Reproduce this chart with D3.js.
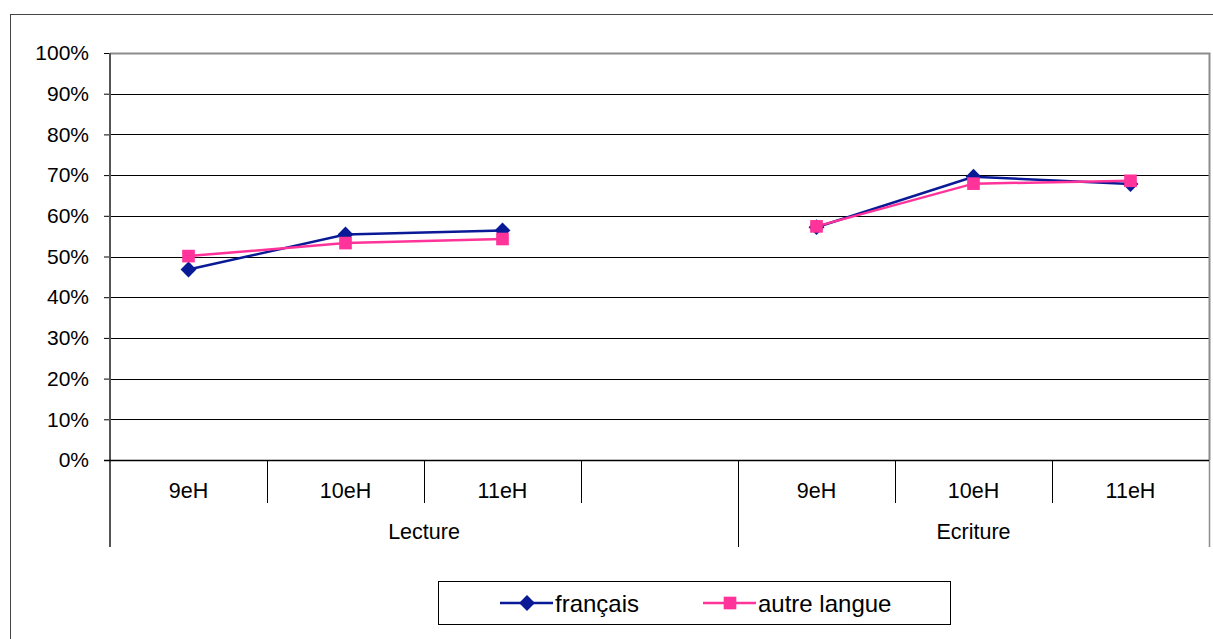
<!DOCTYPE html>
<html>
<head>
<meta charset="utf-8">
<script src="https://cdn.jsdelivr.net/npm/d3@7"></script>
<style>
  body { margin: 0; background: #fff; }
  text { font-family: "Liberation Sans", Arial, sans-serif; fill: #000; }
</style>
</head>
<body>
<div id="chart"></div>
<script>
// data
var categories   = ["9eH", "10eH", "11eH", "", "9eH", "10eH", "11eH"];
var groups       = ["Lecture", "Ecriture"];
var groupSpans   = [4, 3];
var francais     = [0.468, 0.554, 0.564, null, 0.572, 0.696, 0.678];
var autreLangue  = [0.501, 0.533, 0.543, null, 0.574, 0.679, 0.686];
var seriesNames  = ["français", "autre langue"];
var yTicks       = [0, 0.1, 0.2, 0.3, 0.4, 0.5, 0.6, 0.7, 0.8, 0.9, 1];

// --------------------------------------------------------
var chart_width  = 1213;
var chart_height = 639;
var plot_left = 110, plot_right = 1209, plot_top = 53, plot_bottom = 460;

var svg = d3.select("#chart")
  .append("svg")
  .attr("width", chart_width)
  .attr("height", chart_height);

// outer frame (runs off the picture on right/bottom)
svg.append("rect")
  .attr("x", 10.5).attr("y", 14.5)
  .attr("width", 1300).attr("height", 700)
  .attr("fill", "none").attr("stroke", "#444").attr("stroke-width", 1);

// --------------------------------------------------------
// scales
var x_scale = d3.scaleBand()
  .domain(d3.range(categories.length))
  .range([plot_left, plot_right])
  .padding(0);

var y_scale = d3.scaleLinear()
  .domain([0, 1])
  .range([plot_bottom, plot_top]);

// gridlines
svg.append("g")
  .selectAll("line")
  .data(yTicks.filter(function (d) { return d > 0 && d < 1; }))
  .enter()
  .append("line")
  .attr("x1", plot_left).attr("x2", plot_right)
  .attr("y1", function (d) { return Math.round(y_scale(d)) + 0.5; })
  .attr("y2", function (d) { return Math.round(y_scale(d)) + 0.5; })
  .attr("stroke", "#000").attr("stroke-width", 1);

// plot area top + right border (grey)
svg.append("path")
  .attr("d", "M" + plot_left + "," + (plot_top + 0.5) + "H" + (plot_right + 0.5) + "V" + plot_bottom)
  .attr("fill", "none").attr("stroke", "#8c8c8c").attr("stroke-width", 2);

// y axis
var y_axis = d3.axisLeft(y_scale)
  .tickValues(yTicks)
  .tickSize(6)
  .tickPadding(15)
  .tickFormat(d3.format(".0%"));

var yg = svg.append("g")
  .attr("transform", "translate(" + plot_left + ",0)")
  .call(y_axis);
yg.select(".domain").remove();
yg.selectAll(".tick line").attr("stroke", "#000");
yg.selectAll(".tick text").style("font-size", "21px")
  .style("font-family", "'Liberation Sans', Arial, sans-serif").attr("fill", "#000");

// left axis line (extends down through the category area)
svg.append("line")
  .attr("x1", plot_left).attr("x2", plot_left)
  .attr("y1", plot_top).attr("y2", 547)
  .attr("stroke", "#555").attr("stroke-width", 2);

// right long separator
svg.append("line")
  .attr("x1", plot_right + 0.5).attr("x2", plot_right + 0.5)
  .attr("y1", plot_bottom).attr("y2", 547)
  .attr("stroke", "#8c8c8c").attr("stroke-width", 1.5);

// x axis baseline
svg.append("line")
  .attr("x1", plot_left - 6).attr("x2", plot_right)
  .attr("y1", plot_bottom + 0.5).attr("y2", plot_bottom + 0.5)
  .attr("stroke", "#000").attr("stroke-width", 1.5);

// category separators
var boundaries = d3.range(1, categories.length);
var groupEnds = d3.cumsum(groupSpans);
svg.append("g")
  .selectAll("line")
  .data(boundaries)
  .enter()
  .append("line")
  .attr("x1", function (d) { return Math.round(x_scale(d)) + 0.5; })
  .attr("x2", function (d) { return Math.round(x_scale(d)) + 0.5; })
  .attr("y1", plot_bottom)
  .attr("y2", function (d) { return groupEnds.indexOf(d) >= 0 ? 547 : 503; })
  .attr("stroke", "#000").attr("stroke-width", 1);

// category labels
svg.append("g")
  .selectAll("text")
  .data(categories)
  .enter()
  .append("text")
  .attr("x", function (d, i) { return x_scale(i) + x_scale.bandwidth() / 2; })
  .attr("y", 498)
  .attr("text-anchor", "middle")
  .style("font-size", "21.5px")
  .text(function (d) { return d; });

// group labels
var starts = [0].concat(Array.from(groupEnds).slice(0, -1));
svg.append("g")
  .selectAll("text")
  .data(groups)
  .enter()
  .append("text")
  .attr("x", function (d, i) {
    var a = x_scale(starts[i]);
    var b = x_scale(starts[i] + groupSpans[i] - 1) + x_scale.bandwidth();
    return (a + b) / 2;
  })
  .attr("y", 539)
  .attr("text-anchor", "middle")
  .style("font-size", "21.5px")
  .text(function (d) { return d; });

// --------------------------------------------------------
// series
var colors = ["#0a1a96", "#ff3399"];
var allSeries = [francais, autreLangue];

var line = d3.line()
  .defined(function (d) { return d != null; })
  .x(function (d, i) { return x_scale(i) + x_scale.bandwidth() / 2; })
  .y(function (d) { return y_scale(d); });

var diamond = d3.symbol().type(d3.symbolDiamond2).size(160);
var square = d3.symbol().type(d3.symbolSquare).size(160);
var shapes = [diamond, square];

allSeries.forEach(function (s, k) {
  svg.append("path")
    .datum(s)
    .attr("d", line)
    .attr("fill", "none")
    .attr("stroke", colors[k])
    .attr("stroke-width", 2.5);
});

allSeries.forEach(function (s, k) {
  svg.append("g")
    .selectAll("path")
    .data(s.map(function (v, i) { return { v: v, i: i }; }).filter(function (d) { return d.v != null; }))
    .enter()
    .append("path")
    .attr("d", shapes[k])
    .attr("transform", function (d) {
      return "translate(" + (x_scale(d.i) + x_scale.bandwidth() / 2) + "," + y_scale(d.v) + ")";
    })
    .attr("fill", colors[k]);
});

// --------------------------------------------------------
// legend
var lg = svg.append("g");
lg.append("rect")
  .attr("x", 438.5).attr("y", 581.5)
  .attr("width", 512).attr("height", 43)
  .attr("fill", "#fff").attr("stroke", "#000").attr("stroke-width", 1);

var legendX = [500, 703];
seriesNames.forEach(function (name, k) {
  var x0 = legendX[k];
  lg.append("line")
    .attr("x1", x0).attr("x2", x0 + 53)
    .attr("y1", 603).attr("y2", 603)
    .attr("stroke", colors[k]).attr("stroke-width", 2.5);
  lg.append("path")
    .attr("d", shapes[k])
    .attr("transform", "translate(" + (x0 + 27) + ",603)")
    .attr("fill", colors[k]);
  lg.append("text")
    .attr("x", x0 + 55)
    .attr("y", 612)
    .style("font-size", "24px")
    .text(name);
});
</script>
</body>
</html>
